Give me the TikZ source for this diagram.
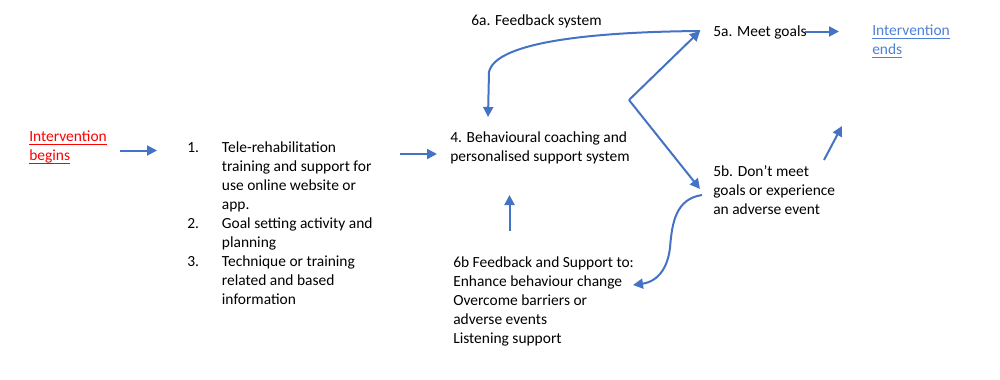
\documentclass[tikz,border=0pt]{standalone}
\usepackage{fontspec}
\setmainfont{Carlito}
\usetikzlibrary{arrows.meta}
\definecolor{flowblue}{RGB}{68,114,196}
\definecolor{linkblue}{RGB}{80,128,212}
\newcommand{\uline}[1]{\setbox0\hbox{#1}\rlap{\rule[-2pt]{\wd0}{0.6pt}}\box0}
\tikzset{
  txt/.style={anchor=north west, inner sep=0pt, align=left, font=\fontsize{11.6}{14.25}\selectfont},
  flow/.style={-{Triangle[length=7.5pt, width=7.5pt]}, line width=1.5pt, flowblue}
}
\begin{document}
\begin{tikzpicture}[x=0.75pt, y=-0.75pt]
\useasboundingbox (0,0) rectangle (1000,379);
% text blocks
\node[txt, text=red] (begins) at (29,131) {\uline{Intervention}\\\uline{begins}};
\node[txt] (steps) at (187,138.5) {\begin{tabular}{@{}p{20.5pt}@{\hspace{5.5pt}}l@{}}
1. & Tele-rehabilitation\\
 & training and support for\\
 & use online website or\\
 & app.\\
2. & Goal setting activity and\\
 & planning\\
3. & Technique or training\\
 & related and based\\
 & information
\end{tabular}};
\node[txt] (coach) at (450,131) {4. Behavioural coaching and\\personalised support system};
\node[txt] (fb) at (471,14) {6a. Feedback system};
\node[txt] (meet) at (713,25) {5a. Meet goals};
\node[txt, text=linkblue] (ends) at (872,25) {\uline{Intervention}\\\uline{ends}};
\node[txt] (notmeet) at (713,165) {5b. Don’t meet\\goals or experience\\an adverse event};
\node[txt] (support) at (453,256) {6b Feedback and Support to:\\Enhance behaviour change\\Overcome barriers or\\adverse events\\Listening support};
% arrow ends
\coordinate (a1) at (120,150.5);
\coordinate (b1) at (157,150.5);
\coordinate (a2) at (400,154);
\coordinate (b2) at (437,154);
\coordinate (split) at (629,100);
\coordinate (toMeet) at (700,31);
\coordinate (toNot) at (700,189);
\coordinate (a3) at (805,31.5);
\coordinate (b3) at (839,31.5);
\coordinate (a4) at (824,160);
\coordinate (b4) at (842,126);
\coordinate (fbEnd) at (488,117);
\coordinate (a5) at (509.5,231);
\coordinate (b5) at (509.5,195);
\coordinate (sStart) at (702,195);
\coordinate (sEnd) at (633,285);
% connectors
\draw[flow] (a1) -- (b1);
\draw[flow] (a2) -- (b2);
\draw[flow] (split) -- (toMeet);
\draw[flow] (split) -- (toNot);
\draw[flow] (a3) -- (b3);
\draw[flow] (a4) -- (b4);
\draw[flow] (toMeet) .. controls (580,32) and (495,44) .. (489,72) -- (fbEnd);
\draw[flow] (a5) -- (b5);
\draw[flow] (sStart) .. controls (676,199) and (672,222) .. (670,248) .. controls (667,272) and (655,282) .. (sEnd);
\end{tikzpicture}
\end{document}
